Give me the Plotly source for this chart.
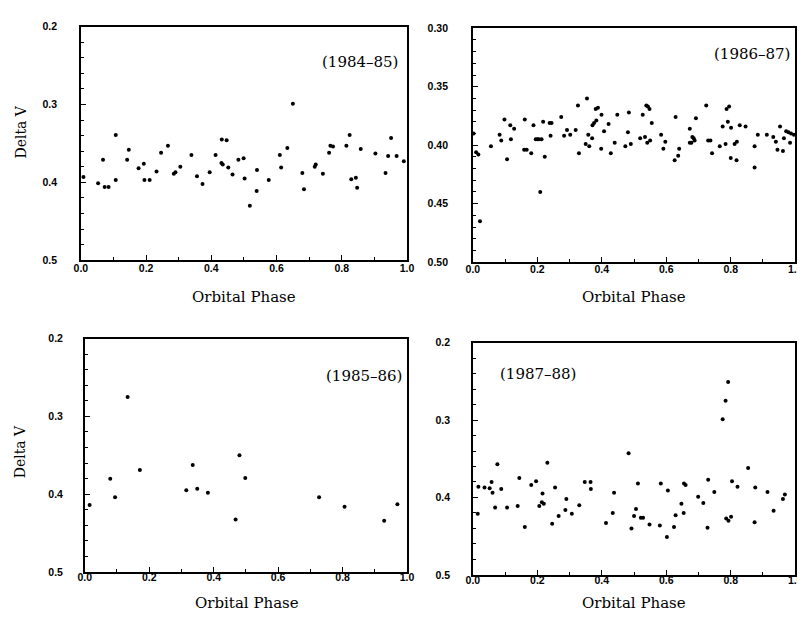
import plotly.graph_objects as go

# ---------------- data ----------------
phase_8485 = [0.008, 0.053, 0.068, 0.073, 0.085, 0.107, 0.107, 0.142, 0.147, 0.177,
              0.193, 0.195, 0.211, 0.232, 0.246, 0.267, 0.285, 0.290, 0.305, 0.339,
              0.356, 0.373, 0.395, 0.413, 0.431, 0.432, 0.435, 0.447, 0.452, 0.465,
              0.483, 0.499, 0.502, 0.518, 0.540, 0.539, 0.576, 0.610, 0.614, 0.633,
              0.650, 0.679, 0.684, 0.717, 0.720, 0.742, 0.761, 0.765, 0.773, 0.814,
              0.824, 0.829, 0.843, 0.847, 0.858, 0.903, 0.934, 0.942, 0.951, 0.968,
              0.990]
dv_8485 = [0.393, 0.401, 0.371, 0.406, 0.406, 0.339, 0.397, 0.371, 0.358, 0.382,
           0.376, 0.397, 0.397, 0.386, 0.362, 0.353, 0.389, 0.387, 0.380, 0.365,
           0.392, 0.402, 0.387, 0.365, 0.375, 0.345, 0.377, 0.346, 0.381, 0.390,
           0.371, 0.369, 0.395, 0.430, 0.384, 0.411, 0.397, 0.365, 0.381, 0.356,
           0.299, 0.388, 0.409, 0.380, 0.377, 0.389, 0.362, 0.353, 0.354, 0.353,
           0.339, 0.396, 0.394, 0.407, 0.357, 0.363, 0.388, 0.366, 0.343, 0.366,
           0.373]

phase_8687 = [0.002, 0.010, 0.017, 0.022, 0.056, 0.083, 0.088, 0.098, 0.106, 0.116,
              0.118, 0.128, 0.161, 0.159, 0.167, 0.181, 0.188, 0.195, 0.200, 0.205,
              0.213, 0.209, 0.218, 0.223, 0.238, 0.244, 0.241, 0.274, 0.283, 0.292,
              0.302, 0.319, 0.326, 0.329, 0.350, 0.361, 0.354, 0.358, 0.370, 0.371,
              0.376, 0.383, 0.381, 0.388, 0.399, 0.398, 0.407, 0.421, 0.428, 0.440,
              0.448, 0.473, 0.481, 0.484, 0.490, 0.519, 0.527, 0.534, 0.538, 0.543,
              0.548, 0.541, 0.550, 0.555, 0.584, 0.591, 0.597, 0.629, 0.626, 0.637,
              0.640, 0.673, 0.673, 0.678, 0.681, 0.685, 0.688, 0.692, 0.724, 0.730,
              0.737, 0.742, 0.766, 0.775, 0.784, 0.787, 0.795, 0.791, 0.801, 0.800,
              0.812, 0.819, 0.818, 0.828, 0.846, 0.874, 0.874, 0.884, 0.912, 0.932,
              0.940, 0.945, 0.953, 0.962, 0.965, 0.972, 0.979, 0.987, 0.996, 0.984]
dv_8687 = [0.390, 0.406, 0.408, 0.465, 0.401, 0.391, 0.396, 0.378, 0.412, 0.383,
           0.395, 0.386, 0.378, 0.404, 0.404, 0.407, 0.383, 0.395, 0.395, 0.395,
           0.395, 0.440, 0.380, 0.410, 0.381, 0.381, 0.392, 0.376, 0.392, 0.387,
           0.391, 0.387, 0.366, 0.407, 0.399, 0.401, 0.360, 0.391, 0.394, 0.383,
           0.381, 0.379, 0.369, 0.368, 0.374, 0.403, 0.388, 0.382, 0.407, 0.398,
           0.374, 0.401, 0.389, 0.372, 0.399, 0.394, 0.374, 0.393, 0.366, 0.367,
           0.369, 0.398, 0.396, 0.381, 0.391, 0.403, 0.397, 0.376, 0.413, 0.409,
           0.403, 0.386, 0.398, 0.398, 0.393, 0.394, 0.396, 0.377, 0.366, 0.396,
           0.396, 0.407, 0.401, 0.384, 0.399, 0.369, 0.367, 0.380, 0.385, 0.411,
           0.399, 0.397, 0.413, 0.383, 0.384, 0.401, 0.419, 0.391, 0.391, 0.393,
           0.397, 0.404, 0.384, 0.405, 0.394, 0.388, 0.389, 0.390, 0.391, 0.398]

phase_8586 = [0.015, 0.079, 0.094, 0.133, 0.171, 0.315, 0.335, 0.349, 0.382, 0.468,
              0.480, 0.498, 0.727, 0.806, 0.929, 0.970]
dv_8586 = [0.414, 0.380, 0.404, 0.275, 0.369, 0.395, 0.3625, 0.393, 0.398, 0.4325,
           0.350, 0.379, 0.404, 0.416, 0.434, 0.413]

phase_8788 = [0.015, 0.017, 0.036, 0.052, 0.058, 0.061, 0.069, 0.076, 0.088, 0.106,
              0.139, 0.144, 0.161, 0.181, 0.196, 0.206, 0.214, 0.220, 0.216, 0.231,
              0.246, 0.255, 0.266, 0.287, 0.290, 0.307, 0.330, 0.347, 0.365, 0.366,
              0.413, 0.434, 0.438, 0.483, 0.492, 0.500, 0.506, 0.512, 0.521, 0.528,
              0.548, 0.580, 0.583, 0.602, 0.605, 0.624, 0.629, 0.647, 0.654, 0.655,
              0.660, 0.699, 0.715, 0.728, 0.730, 0.749, 0.775, 0.784, 0.792, 0.786,
              0.793, 0.801, 0.804, 0.821, 0.854, 0.874, 0.876, 0.914, 0.933, 0.962,
              0.968]
dv_8788 = [0.421, 0.386, 0.387, 0.388, 0.380, 0.394, 0.413, 0.357, 0.389, 0.413,
           0.411, 0.375, 0.438, 0.384, 0.379, 0.411, 0.406, 0.408, 0.395, 0.355,
           0.434, 0.387, 0.424, 0.416, 0.402, 0.421, 0.410, 0.380, 0.380, 0.389,
           0.433, 0.420, 0.394, 0.343, 0.440, 0.424, 0.415, 0.382, 0.426, 0.426,
           0.435, 0.436, 0.382, 0.451, 0.391, 0.438, 0.423, 0.408, 0.420, 0.382,
           0.384, 0.399, 0.407, 0.439, 0.377, 0.393, 0.299, 0.275, 0.251, 0.427,
           0.430, 0.425, 0.379, 0.386, 0.362, 0.432, 0.387, 0.393, 0.417, 0.402,
           0.396]

season_labels = ["(1984–85)", "(1986–87)", "(1985–86)", "(1987–88)"]
x_title = "Orbital Phase"
y_title = "Delta V"

# ---------------- layout helpers ----------------
W, H = 805, 622
SERIF = "DejaVu Serif"
SANS = "Liberation Sans, Arial, sans-serif"


def fx(px):
    return px / W


def fy(py):
    return 1 - py / H


def xaxis(x0, x1, anchor, standoff):
    return dict(domain=[fx(x0), fx(x1)], range=[0, 1], anchor=anchor,
                tick0=0, dtick=0.2, tickformat=".1f", ticks="inside", ticklen=5,
                tickwidth=1, tickcolor="black", ticklabelstandoff=standoff,
                minor=dict(dtick=0.1, ticks="inside", ticklen=3, tickcolor="black"),
                showgrid=False, zeroline=False, showline=True, linewidth=1.5,
                linecolor="black", mirror=True,
                tickfont=dict(family=SANS, size=10.5, color="black", weight="bold"))


def yaxis(y0, y1, anchor, rng, dtick, mdtick, fmt, standoff):
    return dict(domain=[fy(y1), fy(y0)], range=rng, anchor=anchor,
                tick0=0, dtick=dtick, tickformat=fmt, ticks="inside", ticklen=5,
                tickwidth=1, tickcolor="black", ticklabelstandoff=standoff,
                minor=dict(dtick=mdtick, ticks="inside", ticklen=3, tickcolor="black"),
                showgrid=False, zeroline=False, showline=True, linewidth=1.5,
                linecolor="black", mirror=True,
                tickfont=dict(family=SANS, size=10.5, color="black", weight="bold"))


fig = go.Figure()
marker = dict(color="black", size=4)
for xs, ys, xa, ya in [(phase_8485, dv_8485, "x", "y"),
                       (phase_8687, dv_8687, "x2", "y2"),
                       (phase_8586, dv_8586, "x3", "y3"),
                       (phase_8788, dv_8788, "x4", "y4")]:
    fig.add_trace(go.Scatter(x=xs, y=ys, mode="markers", marker=marker,
                             xaxis=xa, yaxis=ya, showlegend=False, cliponaxis=False))

fig.update_layout(
    width=W, height=H, margin=dict(l=0, r=0, t=0, b=0),
    paper_bgcolor="white", plot_bgcolor="white",
    xaxis=xaxis(67, 399, "y", -3),
    yaxis=yaxis(13, 251, "x", [0.5, 0.2], 0.1, 0.02, ".1f", 20),
    xaxis2=xaxis(466, 794, "y2", -3),
    yaxis2=yaxis(14.5, 253, "x2", [0.5, 0.3], 0.05, 0.01, ".2f", 21),
    xaxis3=xaxis(71, 399, "y3", -5),
    yaxis3=yaxis(331, 569, "x3", [0.5, 0.2], 0.1, 0.02, ".1f", 18),
    xaxis4=xaxis(466, 794, "y4", -5),
    yaxis4=yaxis(335, 572, "x4", [0.5, 0.2], 0.1, 0.02, ".1f", 19),
)

ann = []
# season labels
for txt, (cx, cy) in zip(season_labels, [(351, 49), (750, 41), (355, 369), (532, 367)]):
    ann.append(dict(text=txt, x=fx(cx), y=fy(cy), xref="paper", yref="paper",
                    showarrow=False, xanchor="center", yanchor="middle",
                    font=dict(family=SERIF, size=15, color="black")))
# x titles
for cx, cy in [(233, 289), (630, 289), (236, 601), (630, 601)]:
    ann.append(dict(text=x_title, x=fx(cx), y=fy(cy), xref="paper", yref="paper",
                    showarrow=False, xanchor="center", yanchor="middle",
                    font=dict(family=SERIF, size=15, color="black")))
# y titles
for cx, cy in [(6, 120), (5, 446)]:
    ann.append(dict(text=y_title, x=fx(cx), y=fy(cy), xref="paper", yref="paper",
                    showarrow=False, xanchor="center", yanchor="middle", textangle=-90,
                    font=dict(family=SERIF, size=14, color="black")))
fig.update_layout(annotations=ann)

fig.write_html("out.html")
